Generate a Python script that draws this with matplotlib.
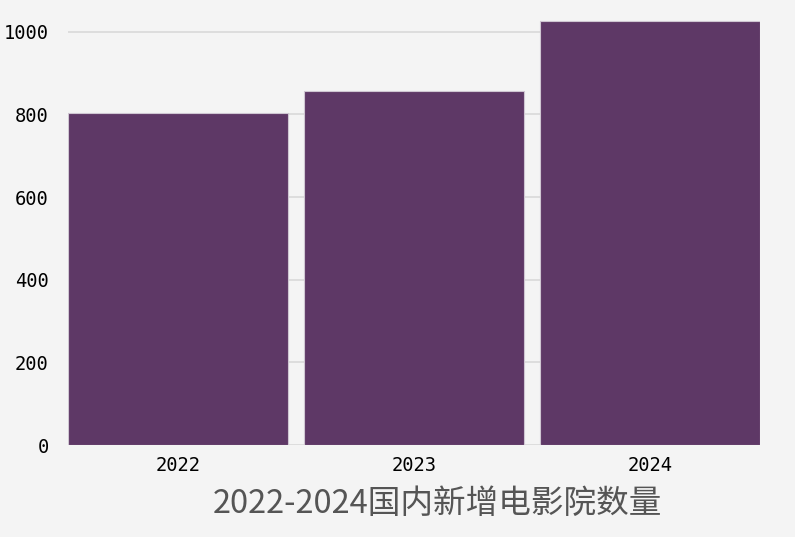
import matplotlib
matplotlib.use("Agg")
import matplotlib.pyplot as plt

# data
years = ["2022", "2023", "2024"]
new_cinemas = [804, 857, 1027]

bg = "#f4f4f4"
bar_color = "#5e3866"

fig = plt.figure(figsize=(7.95, 5.37), dpi=100, facecolor=bg)
ax = fig.add_axes([0.0855, 0.1713, 0.8705, 0.8287], facecolor=bg)

ax.bar(years, new_cinemas, width=0.932, color=bar_color,
       edgecolor="#cfc6d2", linewidth=0.8, zorder=3)

ax.set_xlim(-0.466, 2.466)
ax.set_ylim(0, 1077)
ax.set_yticks([0, 200, 400, 600, 800, 1000])
ax.grid(axis="y", color="#d9d9d9", linewidth=1.2, zorder=0)
ax.grid(axis="x", visible=False)
for s in ax.spines.values():
    s.set_visible(False)
ax.tick_params(length=0, labelsize=13.5, colors="black")
ax.tick_params(axis="x", pad=8)
ax.tick_params(axis="y", pad=14)
for lab in ax.get_xticklabels() + ax.get_yticklabels():
    lab.set_family("DejaVu Sans Mono")

fig.text(0.55, 0.061, "2022-2024国内新增电影院数量", ha="center", va="center",
         fontsize=23.5, color="#555555",
         family=["Noto Sans CJK SC", "DejaVu Sans"])

fig.savefig("out.png", dpi=100, facecolor=bg)
